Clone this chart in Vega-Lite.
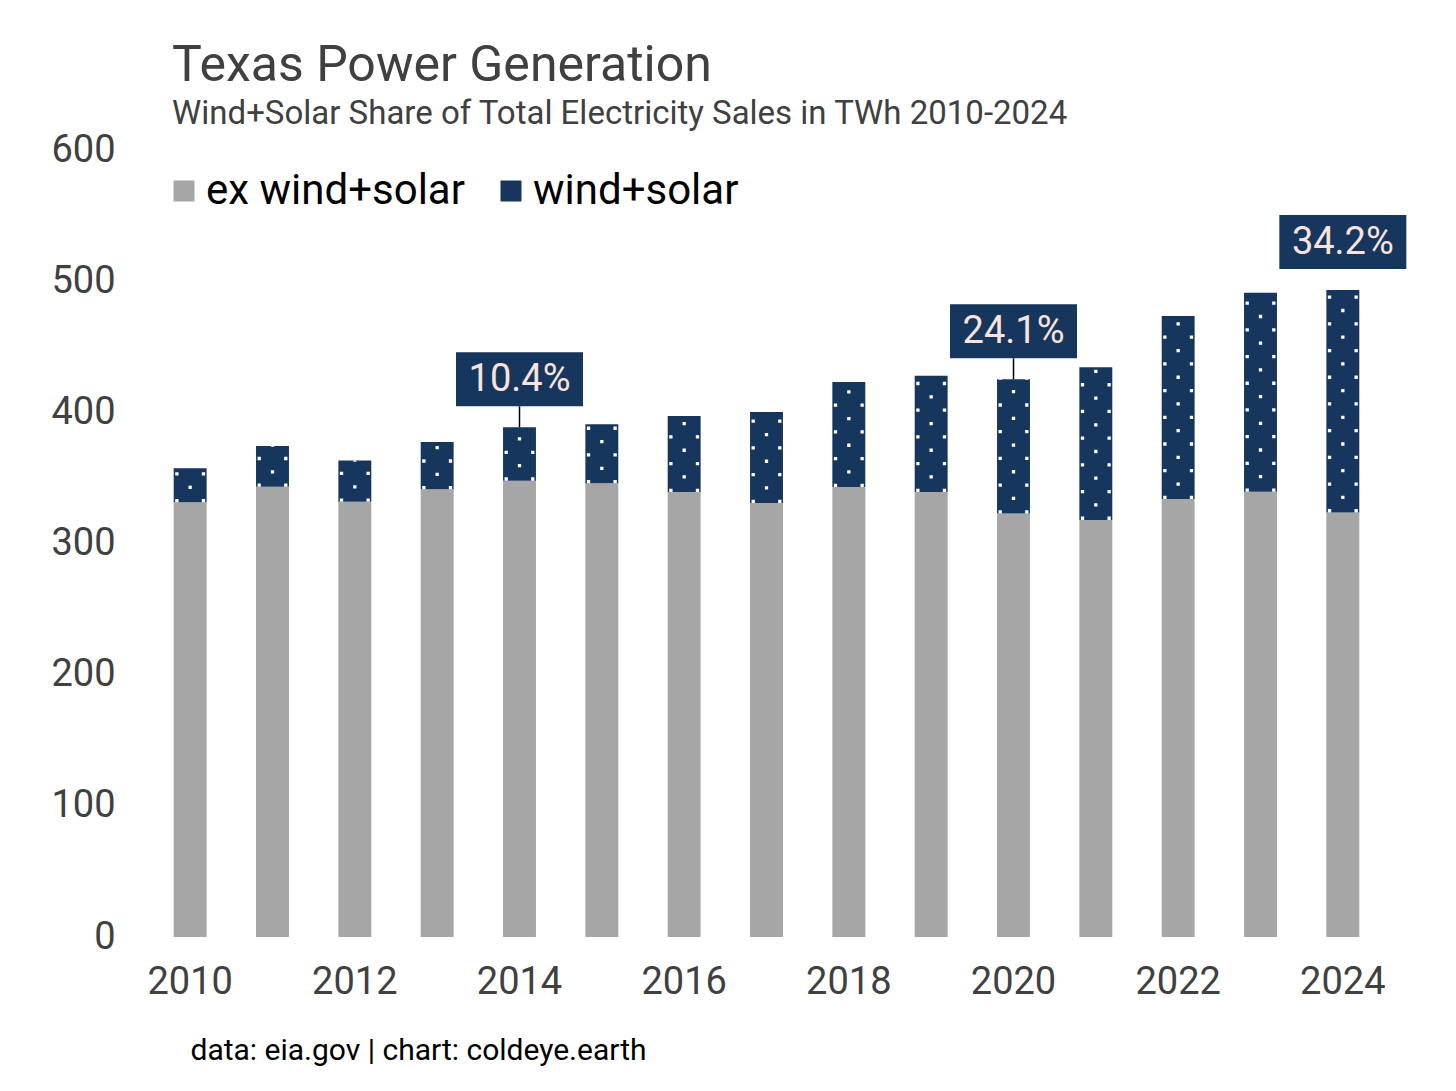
{
  "$schema": "https://vega.github.io/schema/vega-lite/v6.json",
  "width": 1235,
  "height": 787,
  "autosize": {"type": "none"},
  "padding": {"left": 149, "top": 150, "right": 72, "bottom": 154},
  "background": "white",
  "title": {
    "text": "Texas Power Generation",
    "subtitle": "Wind+Solar Share of Total Electricity Sales in TWh 2010-2024",
    "anchor": "start",
    "frame": "group",
    "dx": 23,
    "offset": 0,
    "font": "Roboto",
    "fontSize": 50,
    "fontWeight": "normal",
    "color": "#404040",
    "subtitleFont": "Roboto",
    "subtitleFontSize": 33,
    "subtitleColor": "#404040",
    "subtitlePadding": 7
  },
  "datasets": {
    "bars": [
      {"year": 2010, "type": "ex wind+solar", "value": 331.4},
      {"year": 2010, "type": "wind+solar", "value": 25.9},
      {"year": 2011, "type": "ex wind+solar", "value": 343.2},
      {"year": 2011, "type": "wind+solar", "value": 31.2},
      {"year": 2012, "type": "ex wind+solar", "value": 331.8},
      {"year": 2012, "type": "wind+solar", "value": 31.4},
      {"year": 2013, "type": "ex wind+solar", "value": 341.3},
      {"year": 2013, "type": "wind+solar", "value": 36.1},
      {"year": 2014, "type": "ex wind+solar", "value": 347.9},
      {"year": 2014, "type": "wind+solar", "value": 40.7},
      {"year": 2015, "type": "ex wind+solar", "value": 345.9},
      {"year": 2015, "type": "wind+solar", "value": 45.0},
      {"year": 2016, "type": "ex wind+solar", "value": 339.3},
      {"year": 2016, "type": "wind+solar", "value": 57.9},
      {"year": 2017, "type": "ex wind+solar", "value": 330.9},
      {"year": 2017, "type": "wind+solar", "value": 69.3},
      {"year": 2018, "type": "ex wind+solar", "value": 343.1},
      {"year": 2018, "type": "wind+solar", "value": 80.0},
      {"year": 2019, "type": "ex wind+solar", "value": 339.3},
      {"year": 2019, "type": "wind+solar", "value": 88.6},
      {"year": 2020, "type": "ex wind+solar", "value": 322.9},
      {"year": 2020, "type": "wind+solar", "value": 102.3},
      {"year": 2021, "type": "ex wind+solar", "value": 318.0},
      {"year": 2021, "type": "wind+solar", "value": 116.3},
      {"year": 2022, "type": "ex wind+solar", "value": 333.9},
      {"year": 2022, "type": "wind+solar", "value": 139.5},
      {"year": 2023, "type": "ex wind+solar", "value": 339.5},
      {"year": 2023, "type": "wind+solar", "value": 151.7},
      {"year": 2024, "type": "ex wind+solar", "value": 323.7},
      {"year": 2024, "type": "wind+solar", "value": 169.6}
    ],
    "notes": [
      {"year": 2014, "total": 388.6, "label": "10.4%", "connector": true},
      {"year": 2020, "total": 425.2, "label": "24.1%", "connector": true},
      {"year": 2024, "total": 493.3, "label": "34.2%", "connector": false}
    ]
  },
  "encoding": {
    "x": {
      "field": "year",
      "type": "ordinal",
      "scale": {"type": "band", "paddingInner": 0.6, "paddingOuter": 0.3},
      "axis": {
        "values": [2010, 2012, 2014, 2016, 2018, 2020, 2022, 2024],
        "labelAngle": 0,
        "labelFont": "Roboto",
        "labelFontSize": 38,
        "labelColor": "#404040",
        "labelPadding": 26,
        "domain": false,
        "ticks": false,
        "grid": false,
        "title": "data: eia.gov | chart: coldeye.earth",
        "titleFont": "Roboto",
        "titleFontSize": 30,
        "titleFontWeight": "normal",
        "titleColor": "black",
        "titleAlign": "left",
        "titleAnchor": "start",
        "titleX": 41,
        "titleY": 113,
        "titleBaseline": "middle"
      }
    }
  },
  "layer": [
    {
      "data": {"name": "bars"},
      "transform": [
        {"stack": "value", "groupby": ["year"], "sort": [{"field": "type", "order": "ascending"}], "as": ["v0", "v1"]}
      ],
      "mark": {"type": "bar"},
      "encoding": {
        "y": {
          "field": "v1",
          "type": "quantitative",
          "scale": {"domain": [0, 600], "nice": false},
          "axis": {
            "values": [0, 100, 200, 300, 400, 500, 600],
            "labelFont": "Roboto",
            "labelFontSize": 38,
            "labelColor": "#404040",
            "labelPadding": 34,
            "domain": false,
            "ticks": false,
            "grid": false,
            "title": null
          }
        },
        "y2": {"field": "v0"},
        "color": {
          "field": "type",
          "type": "nominal",
          "scale": {"domain": ["ex wind+solar", "wind+solar"], "range": ["#a6a6a6", "#17365d"]},
          "legend": {
            "orient": "none",
            "legendX": 14,
            "legendY": 20,
            "direction": "horizontal",
            "title": null,
            "symbolType": "square",
            "symbolSize": 441,
            "symbolStrokeWidth": 0,
            "labelFont": "Roboto",
            "labelFontSize": 42,
            "labelColor": "black",
            "labelOffset": 1,
            "columnPadding": 25,
            "labelLimit": 400
          }
        }
      }
    },
    {
      "data": {"name": "bars"},
      "transform": [
        {"stack": "value", "groupby": ["year"], "sort": [{"field": "type", "order": "ascending"}], "as": ["v0", "v1"]},
        {"filter": "datum.type == 'wind+solar'"}
      ],
      "mark": {"type": "rule", "color": "white", "strokeWidth": 3.3, "strokeDash": [3.3, 23.4], "strokeCap": "butt", "xOffset": -13.3},
      "encoding": {"y": {"field": "v0", "type": "quantitative"}, "y2": {"field": "v1"}}
    },
    {
      "data": {"name": "bars"},
      "transform": [
        {"stack": "value", "groupby": ["year"], "sort": [{"field": "type", "order": "ascending"}], "as": ["v0", "v1"]},
        {"filter": "datum.type == 'wind+solar'"}
      ],
      "mark": {"type": "rule", "color": "white", "strokeWidth": 3.3, "strokeDash": [3.3, 23.4], "strokeDashOffset": 13.35, "strokeCap": "butt"},
      "encoding": {"y": {"field": "v0", "type": "quantitative"}, "y2": {"field": "v1"}}
    },
    {
      "data": {"name": "bars"},
      "transform": [
        {"stack": "value", "groupby": ["year"], "sort": [{"field": "type", "order": "ascending"}], "as": ["v0", "v1"]},
        {"filter": "datum.type == 'wind+solar'"}
      ],
      "mark": {"type": "rule", "color": "white", "strokeWidth": 3.3, "strokeDash": [3.3, 23.4], "strokeCap": "butt", "xOffset": 13.3},
      "encoding": {"y": {"field": "v0", "type": "quantitative"}, "y2": {"field": "v1"}}
    },
    {
      "data": {"name": "notes"},
      "transform": [{"filter": "datum.connector"}],
      "mark": {"type": "rule", "color": "black", "strokeWidth": 1.5, "y2Offset": -21},
      "encoding": {"y": {"field": "total", "type": "quantitative"}, "y2": {"field": "total"}}
    },
    {
      "data": {"name": "notes"},
      "mark": {"type": "point", "shape": "M-1,-0.425H1V0.425H-1Z", "size": 16129, "filled": true, "color": "#17365d", "opacity": 1, "strokeWidth": 0, "yOffset": -48},
      "encoding": {"y": {"field": "total", "type": "quantitative"}}
    },
    {
      "data": {"name": "notes"},
      "mark": {"type": "text", "font": "Roboto", "fontSize": 38, "color": "#fbe3dd", "align": "center", "baseline": "middle", "yOffset": -47},
      "encoding": {"y": {"field": "total", "type": "quantitative"}, "text": {"field": "label"}}
    }
  ],
  "config": {"view": {"stroke": null}}
}
